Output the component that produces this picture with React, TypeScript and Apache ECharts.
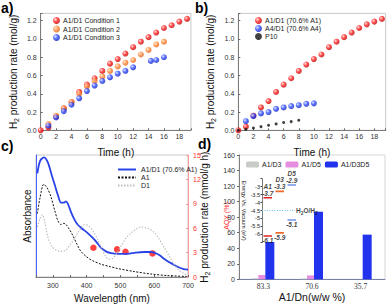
import React, { useEffect, useRef } from 'react';
import * as echarts from 'echarts';

// ---------- Panel a ----------
const hoursCond1 = [0, 1, 2, 3, 4, 5, 6, 7, 8, 9, 10, 11, 12, 13, 14, 15, 16, 17, 18, 19];
const cond1 = [0, 0.03, 0.15, 0.24, 0.31, 0.42, 0.5, 0.57, 0.65, 0.73, 0.78, 0.84, 0.91, 0.97, 1.02, 1.07, 1.12, 1.15, 1.19, 1.22];
const hoursCond2 = [1, 2, 3, 4, 5, 6, 7, 8, 9, 10, 11, 12, 13, 14, 15, 16];
const cond2 = [0.07, 0.16, 0.24, 0.31, 0.4, 0.48, 0.54, 0.59, 0.65, 0.7, 0.74, 0.77, 0.83, 0.88, 0.94, 0.97];
const hoursCond3 = [1, 2, 3, 4, 5, 6, 7, 8, 9, 10, 11, 12, 14.3, 15, 16];
const cond3 = [0.05, 0.14, 0.21, 0.28, 0.35, 0.43, 0.49, 0.54, 0.58, 0.62, 0.65, 0.69, 0.76, 0.77, 0.8];

// ---------- Panel b ----------
const hoursA1D1 = [0, 1, 2, 3, 4, 5, 6, 7, 8, 9, 10, 11, 12, 13, 14, 15, 16, 17, 18, 19];
const rateA1D1 = [0, 0.04, 0.16, 0.25, 0.32, 0.42, 0.5, 0.57, 0.65, 0.72, 0.78, 0.83, 0.91, 0.97, 1.02, 1.07, 1.12, 1.16, 1.19, 1.22];
const hoursA4D1 = [1, 2, 3, 4, 5, 6, 7, 8, 9, 10];
const rateA4D1 = [0.1, 0.155, 0.185, 0.2, 0.235, 0.25, 0.265, 0.275, 0.29, 0.295];
const hoursP10 = [0, 1, 2, 3, 4, 5, 6, 7, 8];
const rateP10 = [0, 0.01, 0.025, 0.04, 0.055, 0.07, 0.085, 0.095, 0.11];

// ---------- Panel c ----------
const wlA1D1 = [254, 262, 273, 285, 296, 305, 315, 324, 332, 339, 346, 354, 364, 373, 385, 403, 418, 428, 442, 457, 472, 495, 520, 545, 570, 590, 600, 615, 629, 645, 658, 672, 687, 700];
const absA1D1 = [0.85, 0.95, 0.98, 0.94, 0.84, 0.76, 0.67, 0.61, 0.61, 0.62, 0.59, 0.53, 0.47, 0.43, 0.4, 0.36, 0.32, 0.29, 0.24, 0.21, 0.195, 0.19, 0.19, 0.2, 0.205, 0.205, 0.2, 0.18, 0.15, 0.12, 0.1, 0.08, 0.065, 0.06];
const wlA1 = [254, 262, 273, 283, 294, 305, 315, 324, 332, 339, 349, 359, 371, 383, 398, 413, 442, 470, 491, 540, 589, 638, 700];
const absA1 = [0.52, 0.65, 0.76, 0.73, 0.66, 0.55, 0.46, 0.43, 0.44, 0.43, 0.39, 0.34, 0.27, 0.21, 0.17, 0.14, 0.105, 0.085, 0.07, 0.045, 0.025, 0.012, 0.004];
const wlD1 = [254, 262, 269, 276, 285, 297, 310, 325, 338, 350, 365, 378, 393, 405, 418, 432, 445, 456, 466, 478, 490, 505, 520, 540, 560, 580, 598, 615, 630, 645, 660, 675, 690, 700];
const absD1 = [0.41, 0.48, 0.51, 0.45, 0.33, 0.25, 0.22, 0.21, 0.22, 0.26, 0.32, 0.38, 0.43, 0.42, 0.38, 0.31, 0.23, 0.17, 0.145, 0.155, 0.2, 0.27, 0.33, 0.38, 0.41, 0.4, 0.37, 0.31, 0.24, 0.17, 0.1, 0.05, 0.025, 0.015];
const wlAQY = [420, 490, 515, 595];
const aqyValues = [3.6, 3.4, 3.1, 2.9];

// ---------- Panel d ----------
const ratioCategories = ['83.3', '70.6', '35.7'];
const rateD3 = [1.2, 1.0, 0];
const rateD5 = [5.5, 5.0, 0];
const rateD3D5 = [48, 87, 57.5];

// ---------- Inset ----------
const moleculeNames = ['A1', 'D3', 'D5'];
const lumoLevels = [-3.7, -3.3, -2.9];
const homoLevels = [-6.1, -5.9, -5.1];
const h2Level = -4.5;

const zip = (xs: number[], ys: number[]) => xs.map((x, i) => [x, ys[i]]);

const ball = (c: string, dark: string, light: string) => ({
  type: 'radial', x: 0.35, y: 0.35, r: 0.75,
  colorStops: [
    { offset: 0, color: light },
    { offset: 0.45, color: c },
    { offset: 1, color: dark },
  ],
});

const SANS = 'Liberation Sans, Arial, sans-serif';
const SERIF = 'Liberation Serif, Times New Roman, serif';
const AX = '#666';

const isMult = (v: number, step: number) => Math.abs(v / step - Math.round(v / step)) < 1e-6;

const h2Name = (rest: string) => ({
  name: '{t|H}{s|2}{t|' + rest + '}',
  nameTextStyle: {
    rich: {
      t: { fontSize: 10, fontFamily: SANS, color: '#111' },
      s: { fontSize: 7, fontFamily: SANS, color: '#111', padding: [6, 0, 0, 0] },
    },
  },
});

function buildOption(): any {
  const timeAxis = (gridIndex: number) => ({
    type: 'value', gridIndex, min: 0, max: 19.5, interval: 2,
    name: 'Time (h)', nameLocation: 'middle', nameGap: 17,
    nameTextStyle: { fontSize: 10, fontFamily: SANS, color: '#111' },
    axisLine: { lineStyle: { color: AX, width: 0.8 } },
    axisTick: { inside: true, length: 2, lineStyle: { color: AX } },
    axisLabel: { fontSize: 7, color: '#333', margin: 3, formatter: (v: number) => (isMult(v, 2) ? String(v) : '') },
    splitLine: { show: false },
  });
  const rateAxis = (gridIndex: number) => ({
    type: 'value', gridIndex, min: 0, max: 1.28, interval: 0.2,
    ...h2Name(' production rate (mol/g)'),
    nameLocation: 'middle', nameGap: 21, nameRotate: 90,
    axisLine: { show: true, lineStyle: { color: AX, width: 0.8 } },
    axisTick: { show: true, inside: true, length: 2, lineStyle: { color: AX } },
    axisLabel: { fontSize: 7, color: '#333', margin: 4, formatter: (v: number) => (isMult(v, 0.2) ? v.toFixed(1) : '') },
    splitLine: { show: false },
  });

  const redBall = ball('#ff2020', '#b00000', '#ffd8d8');
  const orangeBall = ball('#ff8a3a', '#d85a10', '#ffe6cc');
  const blueBall = ball('#2f4dff', '#1020b0', '#d8e0ff');

  const scatterBase = (name: string, xi: number, data: number[][], color: any, size = 6) => ({
    type: 'scatter', name, xAxisIndex: xi, yAxisIndex: xi, data, symbolSize: size,
    itemStyle: { color }, clip: false,
  });

  const series: any[] = [
    scatterBase('A1/D1 Condition 1', 0, zip(hoursCond1, cond1), redBall),
    scatterBase('A1/D1 Condition 2', 0, zip(hoursCond2, cond2), orangeBall),
    scatterBase('A1/D1 Condition 3', 0, zip(hoursCond3, cond3), blueBall),
    scatterBase('A1/D1 (70.6% A1)', 1, zip(hoursA1D1, rateA1D1), redBall),
    scatterBase('A4/D1 (70.6% A4)', 1, zip(hoursA4D1, rateA4D1), blueBall),
    scatterBase('P10', 1, zip(hoursP10, rateP10), '#111', 3),
    {
      type: 'line', name: 'c:A1/D1', xAxisIndex: 2, yAxisIndex: 2, data: zip(wlA1D1, absA1D1),
      smooth: 0.3, symbol: 'none', lineStyle: { color: '#2b44e8', width: 1.8 }, itemStyle: { color: '#2b44e8' },
    },
    {
      type: 'line', name: 'c:A1', xAxisIndex: 2, yAxisIndex: 2, data: zip(wlA1, absA1),
      smooth: 0.3, symbol: 'none', lineStyle: { color: '#111', width: 1, type: [2, 1.5] }, itemStyle: { color: '#111' },
    },
    {
      type: 'line', name: 'c:D1', xAxisIndex: 2, yAxisIndex: 2, data: zip(wlD1, absD1),
      smooth: 0.3, symbol: 'none', lineStyle: { color: '#bbbbbb', width: 1.1, type: [1.5, 1.5] }, itemStyle: { color: '#bbbbbb' },
    },
    {
      type: 'scatter', name: 'AQY', xAxisIndex: 2, yAxisIndex: 3, data: zip(wlAQY, aqyValues),
      symbolSize: 6.5, itemStyle: { color: '#ff1010' },
    },
    {
      type: 'bar', name: 'A1/D3', xAxisIndex: 3, yAxisIndex: 4, data: rateD3,
      barWidth: 6, barGap: '0%', itemStyle: { color: '#c8ccc8' },
    },
    {
      type: 'bar', name: 'A1/D5', xAxisIndex: 3, yAxisIndex: 4, data: rateD5,
      barWidth: 7, barGap: '0%',
      itemStyle: {
        color: '#e58ee0',
        decal: { symbol: 'circle', symbolSize: 0.5, color: 'rgba(190,40,170,0.8)', dashArrayX: [2, 0], dashArrayY: [2, 0] },
      },
    },
    {
      type: 'bar', name: 'A1/D3D5', xAxisIndex: 3, yAxisIndex: 4, data: rateD3D5,
      barWidth: 9, barGap: '0%', itemStyle: { color: '#2233ee' },
    },
  ];

  // Inset energy levels
  const levelColors = ['#e02020', '#f06a2a', '#6f93e6'];
  const xStart = [0.15, 1.35, 2.55];
  const xEnd = [1.0, 2.2, 3.4];
  moleculeNames.forEach((m, i) => {
    [lumoLevels[i], homoLevels[i]].forEach((lv, k) => {
      series.push({
        type: 'line', xAxisIndex: 4, yAxisIndex: 5, data: [[xStart[i], lv], [xEnd[i], lv]],
        symbol: 'none', lineStyle: { color: levelColors[i], width: 1.6 }, silent: true,
      });
      series.push({
        type: 'scatter', xAxisIndex: 4, yAxisIndex: 5, symbolSize: 0, silent: true,
        data: [[(xStart[i] + xEnd[i]) / 2, lv]],
        label: {
          show: true, position: k === 0 ? 'top' : 'bottom', distance: 1,
          formatter: k === 0 ? m + '\n' + lv.toFixed(1) : lv.toFixed(1),
          fontSize: 6.5, fontStyle: 'italic', fontWeight: 'bold', fontFamily: SANS, color: '#111', lineHeight: 7,
        },
      });
    });
  });
  series.push({
    type: 'line', xAxisIndex: 4, yAxisIndex: 5, data: [[0, h2Level], [3.3, h2Level]],
    symbol: 'none', lineStyle: { color: '#6cc8e8', width: 1, type: [1, 1.5] }, silent: true,
  });
  series.push({
    type: 'scatter', xAxisIndex: 4, yAxisIndex: 5, symbolSize: 0, silent: true,
    data: [[3.3, h2Level]],
    label: {
      show: true, position: 'right', distance: 1,
      formatter: '{t|H}{s|2}{t|O/H}{s|2}',
      rich: {
        t: { fontSize: 6.5, fontWeight: 'bold', fontFamily: SANS, color: '#111' },
        s: { fontSize: 5, fontWeight: 'bold', fontFamily: SANS, color: '#111', padding: [4, 0, 0, 0] },
      },
    },
  });

  const legendNames: Record<string, string> = {
    'c:A1/D1': 'A1/D1 (70.6% A1)',
    'c:A1': 'A1',
    'c:D1': 'D1',
  };

  const legendText = { fontSize: 7, fontFamily: SANS, color: '#222', padding: [0, 0, 0, -2] };

  return {
    animation: false,
    backgroundColor: '#fff',
    textStyle: { fontFamily: SANS },
    grid: [
      { left: 40.7, top: 13.4, width: 150.2, height: 116.9, show: true, borderColor: '#bbb', borderWidth: 0.8 },
      { left: 238.3, top: 13.4, width: 147.4, height: 116.9, show: true, borderColor: '#bbb', borderWidth: 0.8 },
      { left: 36, top: 155, width: 152, height: 122, show: true, borderColor: '#bbb', borderWidth: 0.8 },
      { left: 239, top: 155, width: 146, height: 124.3, show: true, borderColor: '#ccc', borderWidth: 0.8 },
      { left: 262, top: 178.6, width: 40, height: 63.8 },
    ],
    xAxis: [
      timeAxis(0),
      timeAxis(1),
      {
        type: 'value', gridIndex: 2, min: 250, max: 700, interval: 50,
        name: 'Wavelength (nm)', nameLocation: 'middle', nameGap: 16,
        nameTextStyle: { fontSize: 10, fontFamily: SANS, color: '#111' },
        axisLine: { lineStyle: { color: AX, width: 0.8 } },
        axisTick: { inside: true, length: 2, lineStyle: { color: AX } },
        axisLabel: { fontSize: 7, color: '#333', margin: 5, formatter: (v: number) => (isMult(v, 100) ? String(v) : '') },
        splitLine: { show: false },
      },
      {
        type: 'category', gridIndex: 3, data: ratioCategories,
        name: 'A1/Dn(w/w %)', nameLocation: 'middle', nameGap: 12,
        nameTextStyle: { fontSize: 10.5, fontFamily: SANS, color: '#111' },
        axisLine: { lineStyle: { color: '#5a6a9a', width: 0.8 } },
        axisTick: { show: false },
        axisLabel: { fontSize: 7.5, fontFamily: SERIF, color: '#333', margin: 3 },
      },
      { type: 'value', gridIndex: 4, min: 0, max: 4, show: false },
    ],
    yAxis: [
      rateAxis(0),
      rateAxis(1),
      {
        type: 'value', gridIndex: 2, min: 0, max: 1,
        name: 'Absorbance', nameLocation: 'middle', nameGap: 4, nameRotate: 90,
        nameTextStyle: { fontSize: 10, fontFamily: SANS, color: '#111' },
        axisLine: { show: true, lineStyle: { color: '#4a63ff', width: 1 } },
        axisTick: { show: false }, axisLabel: { show: false }, splitLine: { show: false },
      },
      {
        type: 'value', gridIndex: 2, min: 0, max: 15, interval: 3, position: 'right',
        name: 'AQY (%)', nameLocation: 'middle', nameGap: 35, nameRotate: 90,
        nameTextStyle: { fontSize: 7, fontFamily: SANS, color: '#ff3030' },
        axisLine: { show: true, lineStyle: { color: '#ff9a9a', width: 1 } },
        axisTick: { show: true, inside: true, length: 2, lineStyle: { color: '#ff9a9a' } },
        axisLabel: { fontSize: 7, color: '#ff3030', margin: 5 },
        splitLine: { show: false },
      },
      {
        type: 'value', gridIndex: 3, min: 0, max: 160, interval: 20,
        ...h2Name(' production rate (mmol/g h)'),
        nameLocation: 'middle', nameGap: 28, nameRotate: 90,
        axisLine: { show: true, lineStyle: { color: AX, width: 0.8 } },
        axisTick: { show: true, length: 2, lineStyle: { color: AX } },
        axisLabel: { fontSize: 7, color: '#333', margin: 4 },
        splitLine: { show: false },
      },
      {
        type: 'value', gridIndex: 4, min: -6.5, max: -2.5, interval: 0.5,
        name: 'Energy Vs. Vacuum (eV)', nameLocation: 'middle', nameGap: 13, nameRotate: -90,
        nameTextStyle: { fontSize: 5.5, fontFamily: SANS, color: '#222' },
        axisLine: { show: true, lineStyle: { color: '#444', width: 0.7 } },
        axisTick: { show: true, length: 1.5, lineStyle: { color: '#444' } },
        axisLabel: {
          fontSize: 5.5, color: '#222', margin: 2,
          formatter: (v: number) => (v < -6.01 || v > -2.99 ? '' : String(v)),
        },
        splitLine: { show: false },
      },
    ],
    legend: [
      {
        data: ['A1/D1 Condition 1', 'A1/D1 Condition 2', 'A1/D1 Condition 3'],
        left: 48, top: 12, orient: 'vertical', itemWidth: 7, itemHeight: 7, itemGap: 1.5,
        textStyle: legendText,
      },
      {
        data: ['A1/D1 (70.6% A1)', 'A4/D1 (70.6% A4)', 'P10'],
        left: 250, top: 12, orient: 'vertical', itemWidth: 7, itemHeight: 7, itemGap: 1,
        textStyle: legendText,
      },
      {
        data: ['c:A1/D1', 'c:A1', 'c:D1'],
        formatter: (n: string) => legendNames[n] || n,
        left: 112, top: 161, orient: 'vertical', itemWidth: 18, itemHeight: 6, itemGap: 1,
        itemStyle: { opacity: 0 },
        textStyle: { fontSize: 7, fontFamily: SANS, color: '#222' },
      },
      {
        data: ['A1/D3', 'A1/D5', 'A1/D3D5'],
        left: 246, top: 161, width: 144, orient: 'horizontal', itemWidth: 13, itemHeight: 6, itemGap: 4,
        padding: 0,
        textStyle: { fontSize: 7, fontFamily: SANS, color: '#222', padding: [0, 0, 0, -2] },
      },
    ],
    graphic: [
      { type: 'text', left: 1, top: 1, style: { text: 'a)', fontSize: 14, fontWeight: 'bold', fontFamily: SANS, fill: '#000' } },
      { type: 'text', left: 195, top: 1, style: { text: 'b)', fontSize: 14, fontWeight: 'bold', fontFamily: SANS, fill: '#000' } },
      { type: 'text', left: 1, top: 139, style: { text: 'c)', fontSize: 14, fontWeight: 'bold', fontFamily: SANS, fill: '#000' } },
      { type: 'text', left: 198, top: 137, style: { text: 'd)', fontSize: 14, fontWeight: 'bold', fontFamily: SANS, fill: '#000' } },
    ],
    series,
  };
}

export default function App() {
  const ref = useRef<HTMLDivElement>(null);
  useEffect(() => {
    document.body.style.margin = '0';
    if (!ref.current) return;
    const chart = echarts.init(ref.current, undefined, { renderer: 'svg' });
    chart.setOption(buildOption());
    return () => chart.dispose();
  }, []);
  return <div ref={ref} style={{ width: 390, height: 305 }} />;
}
